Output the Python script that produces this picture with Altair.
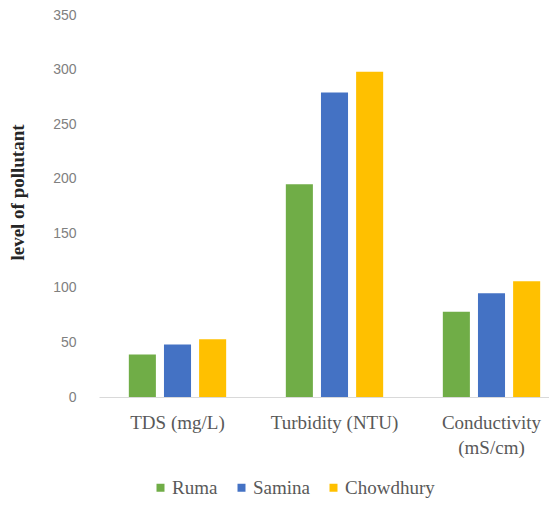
import altair as alt
import pandas as pd

parameters = ["TDS (mg/L)", "Turbidity (NTU)", "Conductivity (mS/cm)"]
sources = ["Ruma", "Samina", "Chowdhury"]
ruma = [39, 195, 78]
samina = [48, 279, 95]
chowdhury = [53, 298, 106]
colors = ["#70AD47", "#4472C4", "#FFC000"]
y_ticks = [0, 50, 100, 150, 200, 250, 300, 350]

rows = []
for i, p in enumerate(parameters):
    for s, vals in zip(sources, [ruma, samina, chowdhury]):
        rows.append({"parameter": p, "source": s, "value": vals[i]})
df = pd.DataFrame(rows)

serif = "Liberation Serif"

chart = alt.Chart(df).mark_bar().encode(
    x=alt.X(
        "parameter:N",
        sort=parameters,
        scale=alt.Scale(range=[2, 473], paddingInner=0.38, paddingOuter=0.19),
        axis=alt.Axis(
            title=None,
            labelAngle=0,
            labelFont=serif,
            labelFontSize=19,
            labelColor="#595959",
            labelPadding=16,
            labelLineHeight=25,
            labelExpr="datum.label == 'Conductivity (mS/cm)' ? ['Conductivity', '(mS/cm)'] : datum.label",
            ticks=False,
            tickSize=0,
            domainColor="#d9d9d9",
            domainWidth=1,
            grid=False,
        ),
    ),
    xOffset=alt.XOffset(
        "source:N",
        sort=sources,
        scale=alt.Scale(paddingInner=0.23, paddingOuter=0),
    ),
    y=alt.Y(
        "value:Q",
        scale=alt.Scale(domain=[0, 350], nice=False),
        axis=alt.Axis(
            title="level of pollutant",
            titleFont=serif,
            titleFontSize=19,
            titleFontWeight="bold",
            titleColor="#262626",
            titleAngle=-90,
            titleX=-80,
            titleY=177,
            titleAlign="center",
            titleBaseline="middle",
            values=y_ticks,
            labelFont="Liberation Sans",
            labelFontSize=14,
            labelColor="#808080",
            labelPadding=21,
            ticks=False,
            tickSize=0,
            domain=False,
            grid=False,
        ),
    ),
    color=alt.Color(
        "source:N",
        sort=sources,
        scale=alt.Scale(domain=sources, range=colors),
        legend=alt.Legend(
            title=None,
            orient="none",
            legendX=54,
            legendY=463,
            direction="horizontal",
            symbolType="square",
            symbolSize=64,
            symbolStrokeWidth=0,
            labelFont=serif,
            labelFontSize=19,
            labelColor="#595959",
            labelOffset=2,
            columnPadding=14,
            padding=0,
        ),
    ),
).properties(
    width=452,
    height=382,
    autosize=alt.AutoSizeParams(type="none"),
    padding={"left": 89, "top": 7, "right": 0, "bottom": 104},
).configure_view(stroke=None)

chart.save("out.html", embed_options={"renderer": "svg", "actions": False})
